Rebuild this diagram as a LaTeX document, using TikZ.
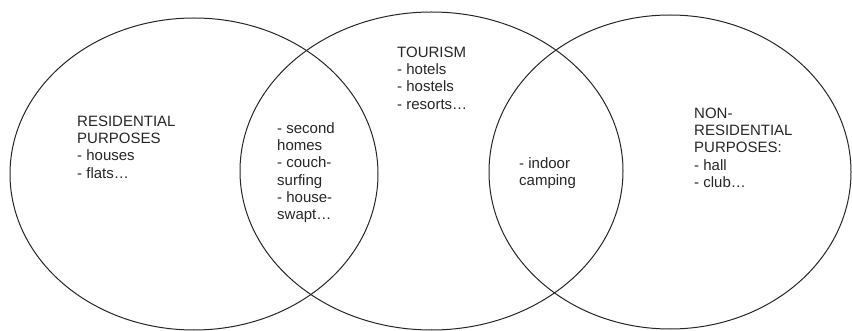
\documentclass[tikz,border=0pt]{standalone}
\usepackage{fontspec}
\setmainfont{Liberation Sans}
\usetikzlibrary{shapes.geometric}
\begin{document}
\begin{tikzpicture}[x=1pt,y=-1pt,
  venn/.style={ellipse,draw=black!85,line width=1pt,inner sep=0pt},
  lbl/.style={anchor=north west,align=left,inner sep=0pt,text=black!85,
    font=\fontsize{15}{17.3}\selectfont}]
\useasboundingbox (0,0) rectangle (852,331);
\node[venn,minimum width=368pt,minimum height=312pt] (L) at (194,174) {};
\node[venn,minimum width=383pt,minimum height=318pt] (M) at (431.5,171) {};
\node[venn,minimum width=362pt,minimum height=314pt] (R) at (670,172) {};
% node top = first baseline - 0.7*17.3 (strut height)
\node[lbl] (res) at (77,113.9) {\strut RESIDENTIAL\\PURPOSES\\- houses\\- flats…};
\node[lbl] (sec) at (277,120.9) {\strut - second\\homes\\- couch-\\surfing\\- house-\\swapt…};
\node[lbl] (tour) at (397,44.9) {\strut TOURISM\\- hotels\\- hostels\\- resorts…};
\node[lbl] (ind) at (519,155.9) {\strut - indoor\\camping};
\node[lbl] (non) at (694,105.9) {\strut NON-\\RESIDENTIAL\\PURPOSES:\\- hall\\- club…};
\end{tikzpicture}
\end{document}
